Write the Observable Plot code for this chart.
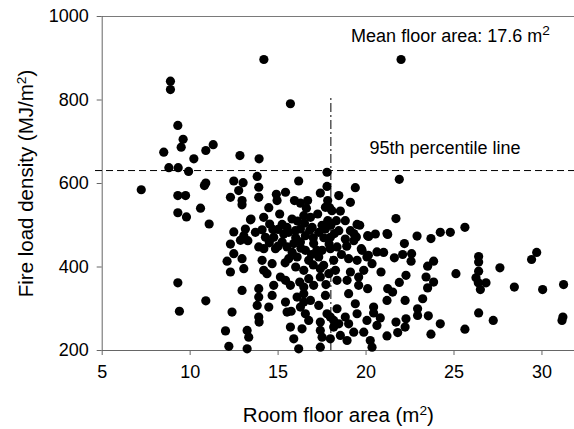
<!DOCTYPE html>
<html><head><meta charset="utf-8">
<script src="https://cdn.jsdelivr.net/npm/d3@7"></script>
<script src="https://cdn.jsdelivr.net/npm/@observablehq/plot@0.6"></script>
<style>html,body{margin:0;padding:0;background:#fff;overflow:hidden}</style>
</head><body><div id="chart"></div>
<script>
// Room floor area (m²) of each surveyed room
const floorArea = [
 14.19,8.88,8.88,15.70,9.30,9.60,9.49,8.50,11.31,10.89,10.21,12.83,13.92,8.79,9.32,9.91,7.22,10.89,10.81,9.30,9.74,9.30,9.79,10.59,11.08,9.30,9.39,10.89,
 12.29,12.10,12.01,12.20,
 17.78,13.81,13.90,13.90,12.48,13.01,16.17,17.78,19.39,12.76,12.95,12.95,14.90,14.94,15.42,15.93,16.27,16.68,17.40,17.82,18.45,19.11,18.54,17.93,14.47,15.09,13.46,14.18,
 14.52,15.23,15.79,16.46,16.84,17.25,17.82,18.31,18.82,19.49,19.11,20.09,20.53,12.48,13.14,13.05,13.71,14.09,14.28,14.75,15.32,15.60,15.98,16.27,16.55,16.93,17.31,17.69,17.97,18.45,18.82,19.30,19.77,20.62,
 12.29,12.86,13.90,14.85,15.23,15.51,15.89,16.27,16.55,17.02,17.50,17.97,18.35,19.01,19.49,20.05,20.34,12.48,12.95,14.09,14.66,15.60,16.08,16.74,17.31,17.59,18.16,18.26,
 12.29,13.05,14.18,14.37,15.13,15.42,16.46,16.74,17.40,17.88,18.35,18.92,19.58,19.87,19.11,14.75,15.70,16.46,17.02,17.69,19.01,19.58,12.95,13.90,13.90,14.66,16.08,16.46,16.84,17.31,
 13.81,14.47,15.42,15.51,16.27,16.55,16.74,17.40,17.78,18.35,18.45,18.82,19.01,19.49,19.39,20.05,20.43,13.90,12.38,13.24,13.33,13.24,15.70,16.36,15.89,16.17,17.40,17.50,17.97,17.40,
 18.54,18.92,19.30,19.87,20.24,20.34,20.62,18.16,17.97,
 13.28,14.19,13.92,15.74,16.46,16.23,17.40,17.72,16.61,18.16,
 13.43,17.69,18.06,19.64,19.30,19.45,20.15,21.23,19.73,
 15.0,15.5,16.0,16.5,17.0,17.5,15.8,16.3,17.2,14.5,15.0,16.8,17.9,18.2,18.0,14.7,16.1,15.4,17.0,16.0,18.6,18.9,17.6,16.9,
 21.99,21.89,21.70,21.19,22.90,23.69,24.22,24.79,25.62,22.18,22.08,22.59,22.56,21.61,21.00,20.13,23.84,23.50,22.27,21.89,23.41,23.84,23.50,21.23,21.51,21.19,22.22,23.22,22.93,22.93,
 23.54,24.22,22.27,22.22,21.70,21.80,21.19,23.69,25.62,26.40,26.40,26.40,26.25,26.38,26.50,26.82,25.11,27.61,28.43,29.41,29.70,30.04,31.23,31.19,31.14,26.40,27.23,20.81,20.85,20.09,20.43
];
// Fire load density (MJ/m²) of each room, same order
const fireLoad = [
 897,845,825,791,739,706,687,675,693,679,659,667,659,638,638,629,585,601,595,571,571,530,520,541,503,362,294,319,
 567,414,247,210,
 627,617,591,567,606,602,606,593,590,583,559,549,574,559,579,559,553,559,577,559,571,555,534,542,542,527,515,519,
 503,502,515,523,519,527,511,511,511,502,487,475,479,484,491,475,483,489,471,471,479,483,487,491,475,495,483,491,471,487,467,463,440,436,
 455,464,448,444,460,448,456,460,440,456,440,444,448,420,416,424,408,432,420,416,408,420,424,416,424,404,416,392,
 388,396,392,384,376,368,392,372,376,384,368,368,376,392,388,356,356,352,356,332,336,356,344,348,328,332,328,336,320,308,
 308,304,316,292,304,288,272,268,288,300,264,280,264,288,312,272,304,280,292,248,232,204,256,252,228,204,248,232,228,208,
 236,224,244,244,224,208,260,256,280,
 463,444,268,294,316,364,396,358,541,272,
 513,543,535,500,480,472,473,478,444,
 490,495,470,505,470,500,435,445,440,458,450,488,455,480,500,490,510,410,405,400,430,450,470,430,
 897,610,516,480,474,468,483,483,495,456,430,432,414,422,435,428,414,402,380,363,376,364,350,348,340,320,320,324,300,284,
 283,264,276,256,268,243,235,239,251,425,412,390,374,362,346,362,384,398,352,418,435,346,358,280,272,290,272,278,388,348,290
];
const xTicks = [5, 10, 15, 20, 25, 30];
const yTicks = [200, 400, 600, 800, 1000];
const percentile95 = 631;        // MJ/m²
const meanLineX = 18.0;          // where the mean line is drawn
const meanLineTop = 805;
const xLabel = "Room floor area (m²)";
const yLabel = "Fire load density (MJ/m²)";
const notes = [
  {x: 19.15, y: 952, t: "Mean floor area: 17.6 m²"},
  {x: 20.19, y: 685, t: "95th percentile line"}
];

const data = floorArea.map((x, i) => ({x, y: fireLoad[i]}));
const font = "'Liberation Sans', Arial, Helvetica, sans-serif";

const chart = Plot.plot({
  width: 574, height: 429,
  marginLeft: 101.7, marginRight: 0, marginTop: 16, marginBottom: 79,
  style: {fontFamily: font, fontSize: "18px", background: "#fff", color: "#000", overflow: "visible"},
  x: {domain: [5, 31.85]},
  y: {domain: [200, 1000]},
  marks: [
    Plot.ruleY([1000], {stroke: "#7a7a7a"}),
    Plot.ruleY([200], {stroke: "#666"}),
    Plot.ruleX([5], {stroke: "#666"}),
    Plot.axisX({ticks: xTicks, tickFormat: d => String(d), tickSize: 5, tickPadding: 10, fontSize: 18, label: null, stroke: "#666", fill: "#000"}),
    Plot.axisY({ticks: yTicks, tickFormat: d => String(d), tickSize: 5, tickPadding: 8.4, fontSize: 18, label: null, stroke: "#666", fill: "#000"}),
    Plot.ruleY([percentile95], {x1: 4.62, x2: 31.85, stroke: "#000", strokeWidth: 1, strokeDasharray: "7,4"}),
    Plot.ruleX([meanLineX], {y1: 200, y2: meanLineTop, stroke: "#000", strokeWidth: 1, strokeDasharray: "9,3,2,3"}),
    Plot.dot(data, {x: "x", y: "y", r: 4.6, fill: "#000", stroke: "none"}),
    Plot.text(notes, {x: "x", y: "y", text: "t", textAnchor: "start", lineAnchor: "middle", fontSize: 18, fill: "#000"}),
    Plot.text([xLabel], {frameAnchor: "bottom", dy: 65.4, fontSize: 20.5, lineAnchor: "middle", fill: "#000"}),
    Plot.text([yLabel], {frameAnchor: "left", rotate: -90, dx: -75.3, fontSize: 20.5, lineAnchor: "middle", textAnchor: "middle", fill: "#000"})
  ]
});

// render "²" as a raised, smaller "2"
chart.querySelectorAll("text").forEach(el => {
  if (el.children.length || !el.textContent.includes("²")) return;
  const s = el.textContent;
  const i = s.indexOf("²");
  const fs = parseFloat(el.getAttribute("font-size") || getComputedStyle(el).fontSize) || 18;
  const ns = "http://www.w3.org/2000/svg";
  el.textContent = "";
  el.appendChild(document.createTextNode(s.slice(0, i)));
  const sup = document.createElementNS(ns, "tspan");
  sup.setAttribute("font-size", (fs * 0.76).toFixed(1));
  sup.setAttribute("dy", (-0.43 * fs).toFixed(1));
  sup.textContent = "2";
  el.appendChild(sup);
  const rest = s.slice(i + 1);
  if (rest) {
    const t = document.createElementNS(ns, "tspan");
    t.setAttribute("dy", (0.43 * fs).toFixed(1));
    t.textContent = rest;
    el.appendChild(t);
  }
});

document.getElementById("chart").appendChild(chart);
</script>
</body></html>
